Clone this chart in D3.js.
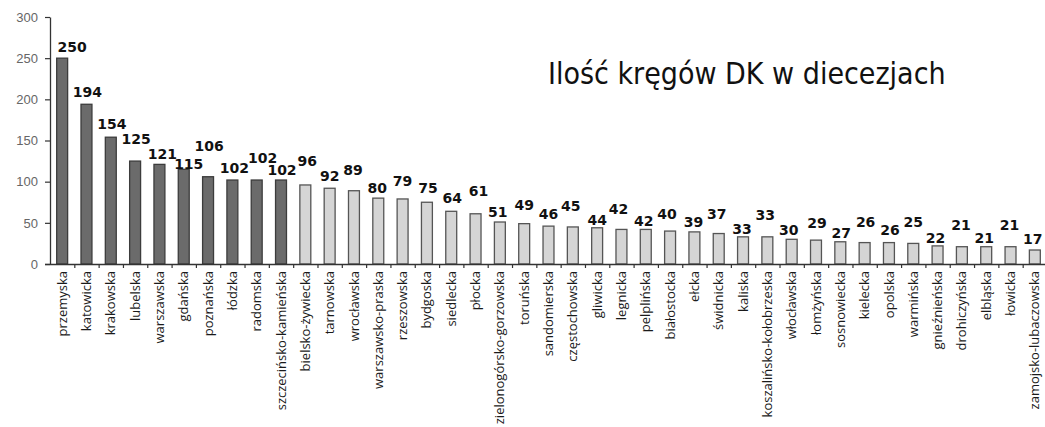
<!DOCTYPE html>
<html>
<head>
<meta charset="utf-8">
<script src="https://cdn.jsdelivr.net/npm/d3@7/dist/d3.min.js"></script>
<style>
  html, body { margin: 0; padding: 0; background: #fff; }
  svg { display: block; }
</style>
</head>
<body>
<svg id="chart" width="1045" height="427"></svg>
<script>
// Dioceses and the number of DK circles in each
const categories = [
  "przemyska", "katowicka", "krakowska", "lubelska", "warszawska", "gdańska",
  "poznańska", "łódzka", "radomska", "szczecińsko-kamieńska", "bielsko-żywiecka",
  "tarnowska", "wrocławska", "warszawsko-praska", "rzeszowska", "bydgoska",
  "siedlecka", "płocka", "zielonogórsko-gorzowska", "toruńska", "sandomierska",
  "częstochowska", "gliwicka", "legnicka", "pelplińska", "białostocka", "ełcka",
  "świdnicka", "kaliska", "koszalińsko-kołobrzeska", "włocławska", "łomżyńska",
  "sosnowiecka", "kielecka", "opolska", "warmińska", "gnieźnieńska",
  "drohiczyńska", "elbląska", "łowicka", "zamojsko-lubaczowska"
];
const values = [
  250, 194, 154, 125, 121, 115, 106, 102, 102, 102, 96,
  92, 89, 80, 79, 75, 64, 61, 51, 49, 46,
  45, 44, 42, 42, 40, 39, 37, 33, 33, 30,
  29, 27, 26, 26, 25, 22, 21, 21, 21, 17
];
// number of leading bars drawn in the dark shade
const darkCount = 10;
const yTicks = [0, 50, 100, 150, 200, 250, 300];
const title = "Ilość kręgów DK w diecezjach";

// hand-placed value label nudges (pixels above bar top, horizontal shift)
const labelLift = [11,12,13,22,10,5,31,12,22,10,24,12,21,10,18,14,13,23,10,19,12,21,8,20,8,17,10,20,8,22,9,17,9,21,13,21,8,22,9,22,11];
const labelShift = [10,1,1,1,3,5,1,2,6,1,2,0,-1,-1,0,1,1,3,-2,0,0,-2,0,-3,-2,-3,-1,-2,-1,-2,-3,1,1,1,1,0,-2,-1,-2,-1,-2];

const svg = d3.select("#chart");
const plotLeft = 50, plotRight = 1047, plotTop = 17, plotBottom = 264;

const x = d3.scaleBand()
  .domain(categories)
  .range([plotLeft, plotRight])
  .paddingInner(0.55)
  .paddingOuter(0.275);

// index scale for the boundary ticks between bars
const xEdge = d3.scaleLinear().domain([0, categories.length]).range([plotLeft, plotRight]);

const y = d3.scaleLinear().domain([0, 300]).range([plotBottom, plotTop]);

// y axis
const yAxis = svg.append("g")
  .attr("transform", `translate(${plotLeft},0)`)
  .call(d3.axisLeft(y).tickValues(yTicks).tickSize(5).tickSizeOuter(0).tickPadding(7));
yAxis.select(".domain").attr("stroke", "#333").attr("stroke-width", 1.3);
yAxis.selectAll(".tick line").attr("stroke", "#333").attr("stroke-width", 1.2);
yAxis.selectAll(".tick text")
  .attr("fill", "#666")
  .style("font-family", "'Liberation Sans', Arial, sans-serif")
  .style("font-size", "13px");

// bars
svg.append("g").selectAll("rect")
  .data(values)
  .join("rect")
  .attr("x", (d, i) => x(categories[i]))
  .attr("y", d => y(d))
  .attr("width", x.bandwidth())
  .attr("height", d => y(0) - y(d))
  .attr("fill", (d, i) => i < darkCount ? "#6b6b6b" : "#d5d5d5")
  .attr("stroke", (d, i) => i < darkCount ? "#3c3c3c" : "#555")
  .attr("stroke-width", 1.3);

// x axis with ticks between bars
const xAxis = svg.append("g")
  .attr("transform", `translate(0,${plotBottom})`)
  .call(d3.axisBottom(xEdge).tickValues(d3.range(1, categories.length + 1)).tickSize(4).tickSizeOuter(0).tickFormat(""));
xAxis.select(".domain").attr("stroke", "#333").attr("stroke-width", 1.3)
  .attr("d", `M${plotLeft - 5},0.5H1045`);
xAxis.selectAll(".tick line").attr("stroke", "#333").attr("stroke-width", 1.2);

// value labels
svg.append("g").selectAll("text")
  .data(values)
  .join("text")
  .attr("x", (d, i) => x(categories[i]) + x.bandwidth() / 2 + labelShift[i])
  .attr("y", (d, i) => y(d) - labelLift[i])
  .attr("dy", "0.36em")
  .attr("text-anchor", "middle")
  .attr("fill", "#111")
  .style("font-family", "'DejaVu Sans', Verdana, sans-serif")
  .style("font-weight", "bold")
  .style("font-size", "14px")
  .text(d => d);

// rotated category labels
svg.append("g").selectAll("text")
  .data(categories)
  .join("text")
  .attr("transform", d => `translate(${x(d) + x.bandwidth() / 2},271) rotate(-90)`)
  .attr("dy", "0.35em")
  .attr("text-anchor", "end")
  .attr("fill", "#1a1a1a")
  .style("font-family", "'Open Sans', 'Noto Sans', sans-serif")
  .style("font-size", "13px")
  .text(d => d);

// title
svg.append("text")
  .attr("x", 548)
  .attr("y", 84)
  .attr("fill", "#111")
  .style("font-family", "'DejaVu Sans Condensed', 'DejaVu Sans', sans-serif")
  .style("font-size", "30px")
  .text(title);
</script>
</body>
</html>
